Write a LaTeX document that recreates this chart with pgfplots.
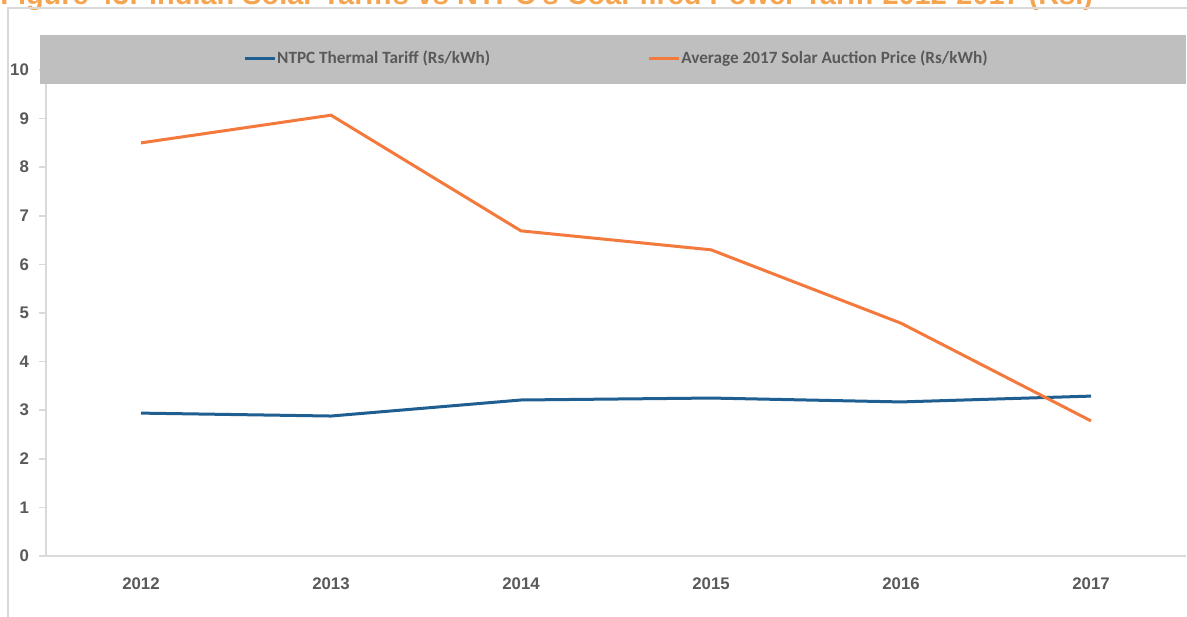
\documentclass[border=0pt]{standalone}
\usepackage{pgfplots}
\pgfplotsset{compat=1.18}
\usepackage{fontspec}
\setmainfont{Liberation Sans}
\newfontfamily\legfont{Carlito}
\definecolor{ntpc}{RGB}{31,94,145}
\definecolor{solar}{RGB}{244,121,60}
\definecolor{titlec}{RGB}{245,165,80}
\definecolor{tickc}{RGB}{89,89,89}
\definecolor{axc}{RGB}{217,217,217}
\definecolor{band}{RGB}{191,191,191}
\begin{document}
\begin{tikzpicture}
\clip (0,0) rectangle (593.5pt,308pt);
\node[anchor=base west, inner sep=0pt, text=titlec, font=\fontsize{14.45}{16}\selectfont\bfseries] at (0pt,305.8pt) {Figure 43: Indian Solar Tariffs vs NTPC's Coal-fired Power Tariff 2012-2017 (Rs.)};
\draw[axc, line width=0.8pt] (4pt,-5pt) rectangle (600pt,304pt);
\begin{axis}[
  at={(23pt,30pt)}, anchor=south west,
  scale only axis, width=570pt, height=260.5pt,
  xmin=-0.5, xmax=5.5, ymin=0, ymax=10.72,
  axis lines*=left,
  axis line style={axc, line width=0.8pt},
  xtick={0,1,2,3,4,5},
  xticklabels={2012,2013,2014,2015,2016,2017},
  extra x ticks={-0.5,0.5,1.5,2.5,3.5,4.5,5.5},
  extra x tick labels={},
  extra x tick style={major tick length=4pt, tick style={axc, line width=0.8pt}},
  x tick style={draw=none},
  ytick={0,1,...,10},
  y tick style={axc, line width=0.8pt},
  major tick length=3.5pt,
  tick align=outside,
  /pgf/number format/assume math mode=true,
  tick label style={text=tickc, font=\fontsize{8.4}{10}\selectfont\bfseries},
  xticklabel style={yshift=-4pt},
  yticklabel style={xshift=-1.5pt},
  clip=false,
  legend columns=2,
  legend style={at={(0.5,0.954)}, anchor=center, draw=none, fill=none,
    font=\legfont\fontsize{8.6}{10}\selectfont\bfseries, text=tickc,
    /tikz/every even column/.append style={column sep=78pt},
    nodes={inner xsep=0.5pt},
    inner sep=0pt},
  legend image code/.code={\draw[#1, line width=1.5pt] (0pt,0pt) -- (15pt,0pt);},
]
\fill[band] (axis cs:-0.532,9.71) rectangle (axis cs:5.5,10.72);
\addplot[ntpc, line width=1.5pt] coordinates {(0,2.94) (1,2.88) (2,3.21) (3,3.25) (4,3.17) (5,3.29)};
\addlegendentry{NTPC Thermal Tariff (Rs/kWh)}
\addplot[solar, line width=1.5pt] coordinates {(0,8.50) (1,9.07) (2,6.69) (3,6.30) (4,4.79) (5,2.78)};
\addlegendentry{Average 2017 Solar Auction Price (Rs/kWh)}
\end{axis}
\end{tikzpicture}
\end{document}
